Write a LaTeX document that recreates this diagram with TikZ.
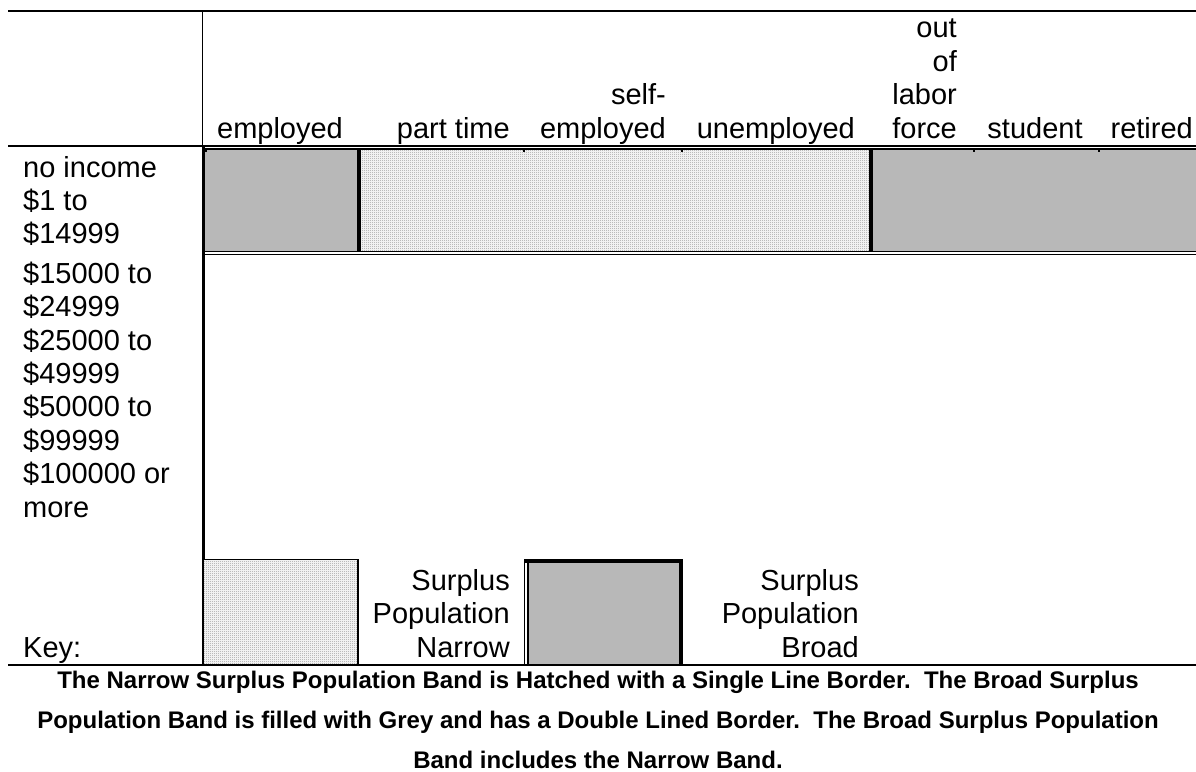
\documentclass[tikz,border=0pt]{standalone}
\usepackage{fontspec}
\setmainfont{Liberation Sans}
\usetikzlibrary{patterns}
\frenchspacing
% fine checkerboard stipple used for the narrow band
\pgfdeclarepatternformonly{stipple}{\pgfqpoint{0pt}{0pt}}{\pgfqpoint{2pt}{2pt}}{\pgfqpoint{2pt}{2pt}}{%
  \pgfpathrectangle{\pgfqpoint{0pt}{0pt}}{\pgfqpoint{1pt}{1pt}}%
  \pgfpathrectangle{\pgfqpoint{1pt}{1pt}}{\pgfqpoint{1pt}{1pt}}%
  \pgfusepath{fill}}
\definecolor{bandgrey}{RGB}{184,184,184}
\definecolor{dotgrey}{RGB}{150,150,150}
\newcommand\cellfont{\fontsize{29}{33.4}\selectfont}
\newcommand\notefont{\fontsize{24}{40}\selectfont\bfseries}

\begin{document}
\begin{tikzpicture}[x=1pt,y=-1pt,
  cell/.style={inner sep=0pt, font=\cellfont},
  rcell/.style={cell, align=right, anchor=base east},
  lcell/.style={cell, align=left, anchor=base west},
  ccell/.style={cell, align=center, anchor=base},
  note/.style={inner sep=0pt, font=\notefont, align=center, anchor=base},
  thin rule/.style={line width=1.3pt},
  thick rule/.style={line width=3.4pt},
  broad fill/.style={fill=bandgrey},
  narrow fill/.style={pattern=stipple, pattern color=dotgrey},
  gridtick/.style={line width=1.2pt},
]
\useasboundingbox (0,0) rectangle (1196,771);
\fill[white] (0,0) rectangle (1196,771);

% ---- bands in the lowest income rows
\fill[broad fill] (204,149.5) rectangle (359,251);
\fill[white] (359,149.5) rectangle (871,251);
\fill[narrow fill] (359,149.5) rectangle (871,251);
\fill[broad fill] (871,149.5) rectangle (1196,251);

% ---- table rules
\draw[thin rule] (8,11) -- (1196,11);
\draw[thin rule] (202.5,11) -- (202.5,146);
\draw[thin rule] (8,146) -- (1196,146);
\draw[thin rule] (202,149) -- (1196,149);
\draw[thin rule] (202,251.3) -- (1196,251.3);
\draw[thin rule] (202,254.7) -- (1196,254.7);
\draw[thick rule] (203.2,146) -- (203.2,665);
\draw[thick rule] (359,149) -- (359,251.3);
\draw[thick rule] (871,149) -- (871,251.3);
% small gridline stubs at the top of the bands
\foreach \gx in {206,524,682,974,1099}
  \draw[gridtick] (\gx,149) -- (\gx,151.5);

% ---- column headings (anchored at the baseline of the last line)
\node[ccell] (hEmp)  at (280,138) {employed};
\node[rcell] (hPart) at (510,138) {part time};
\node[rcell] (hSelf) at (666,138) {self-\\employed};
\node[rcell] (hUnem) at (855,138) {unemployed};
\node[rcell] (hOut)  at (957,138) {out\\of\\labor\\force};
\node[ccell] (hStud) at (1035,138) {student};
\node[rcell] (hRet)  at (1193,138) {retired};

% ---- row headings
\node[lcell] (r0) at (23,177) {no income};
\node[lcell] (r1) at (23,243.8) {\$1 to\\\$14999};
\node[lcell] (r2) at (23,316.7) {\$15000 to\\\$24999};
\node[lcell] (r3) at (23,383.5) {\$25000 to\\\$49999};
\node[lcell] (r4) at (23,450.3) {\$50000 to\\\$99999};
\node[lcell] (r5) at (23,517.1) {\$100000 or\\more};

% ---- key
\fill[white] (204,559.5) rectangle (358,665);
\fill[narrow fill] (204,559.5) rectangle (358,665);
\draw[thin rule] (204,559.5) -| (358,665);
\fill[broad fill] (528,561) rectangle (679,665);
\draw[line width=4pt] (524,561.2) -- (682.5,561.2);
\draw[line width=4pt] (680.5,559.2) -- (680.5,665);
\draw[line width=1.3pt] (524.6,559.2) -- (524.6,665);
\draw[line width=1.8pt] (527.9,559.2) -- (527.9,665);
\draw[line width=1.8pt] (8,665) -- (1196,665);

\node[lcell] (kKey) at (23,657) {Key:};
\node[rcell] (kNar) at (510,657) {Surplus\\Population\\Narrow};
\node[rcell] (kBro) at (859,657) {Surplus\\Population\\Broad};

% ---- explanatory note
\node[note] (note) at (598,768) {The Narrow Surplus Population Band is Hatched with a Single Line Border.\ \ The Broad Surplus\\
Population Band is filled with Grey and has a Double Lined Border.\ \ The Broad Surplus Population\\
Band includes the Narrow Band.};
\end{tikzpicture}
\end{document}
